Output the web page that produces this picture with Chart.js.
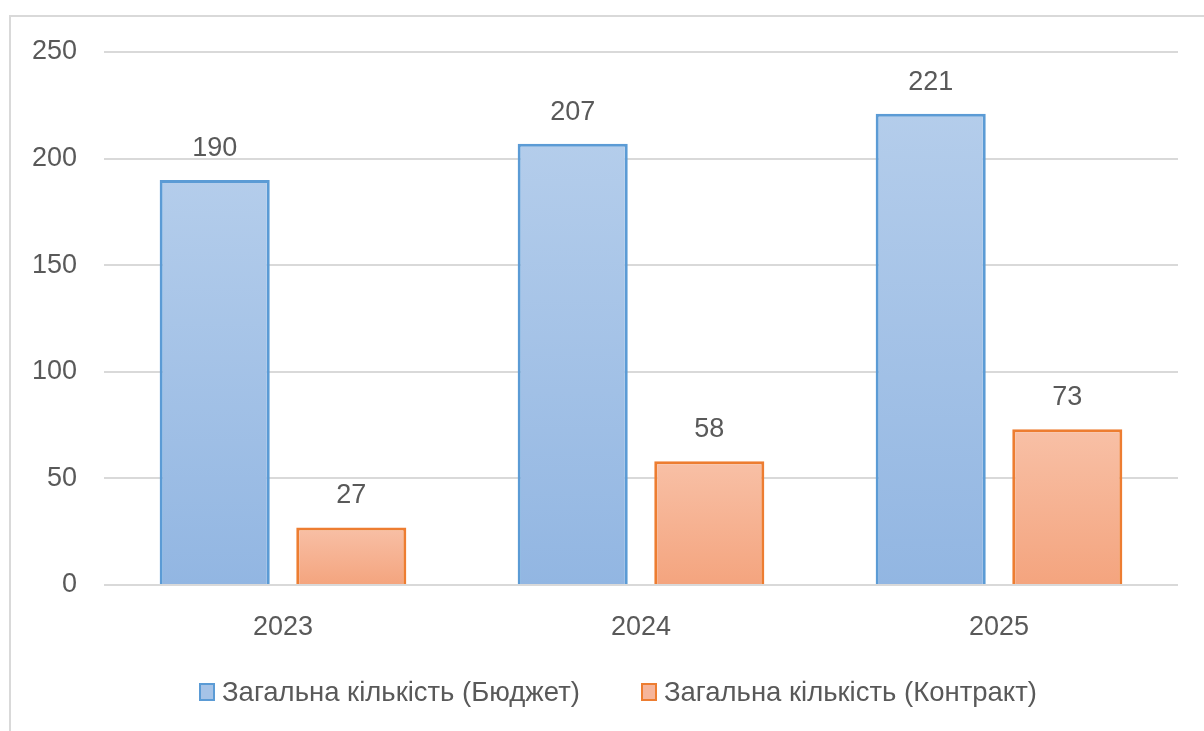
<!DOCTYPE html>
<html>
<head>
<meta charset="utf-8">
<script src="https://cdn.jsdelivr.net/npm/chart.js@4"></script>
<style>
  html, body { margin: 0; padding: 0; background: #fff; overflow: hidden; }
  #frame {
    position: absolute; left: 9px; top: 15px; width: 1300px; height: 800px;
    border-left: 2px solid #d9d9d9; border-top: 2px solid #d9d9d9;
  }
  #wrap { position: absolute; left: 0; top: 0; width: 1204px; height: 731px; }
  #legend {
    position: absolute; left: 199px; top: 678px; height: 28px;
    display: flex; align-items: center; gap: 61px;
    font-family: 'Liberation Sans', Arial, sans-serif; font-size: 27.5px; color: #595959;
  }
  .item { display: flex; align-items: center; }
  .box { box-sizing: border-box; width: 16px; height: 18px; border: 2.5px solid; margin-right: 7px; }
</style>
</head>
<body>
<div id="frame"></div>
<div id="wrap"><canvas id="chart"></canvas></div>
<div id="legend"></div>
<script>
// ==================== DATA ====================
const years = ['2023', '2024', '2025'];
const budget = [190, 207, 221];
const contract = [27, 58, 73];
const seriesNames = ['Загальна кількість (Бюджет)', 'Загальна кількість (Контракт)'];
const yMax = 250;
const yStep = 50;

const FONT = "'Liberation Sans', Arial, sans-serif";
const TEXT = '#595959';
const GRID = '#d9d9d9';

const styles = [
  { border: '#5b9bd5', top: '#b4cdeb', bottom: '#92b6e2', legend: '#a6c3e7' },
  { border: '#ed7d31', top: '#f8c0a6', bottom: '#f4a47e', legend: '#f6b59a' },
];

// vertical gradient per bar, from the bar's top to the zero line
function barGradient(idx) {
  return (c) => {
    const chart = c.chart;
    if (!chart.chartArea || c.raw == null) return styles[idx].bottom;
    const y = chart.scales.y;
    const g = chart.ctx.createLinearGradient(0, y.getPixelForValue(c.raw), 0, y.getPixelForValue(0));
    g.addColorStop(0, styles[idx].top);
    g.addColorStop(1, styles[idx].bottom);
    return g;
  };
}

// value labels above each bar
const valueLabels = {
  id: 'valueLabels',
  afterDatasetsDraw(chart) {
    const ctx = chart.ctx;
    ctx.save();
    ctx.font = '27px ' + FONT;
    ctx.fillStyle = TEXT;
    ctx.textAlign = 'center';
    ctx.textBaseline = 'alphabetic';
    chart.data.datasets.forEach((ds, i) => {
      chart.getDatasetMeta(i).data.forEach((el, j) => {
        ctx.fillText(String(ds.data[j]), el.x, el.y - 24);
      });
    });
    ctx.restore();
  },
};

const datasets = [budget, contract].map((data, i) => ({
  label: seriesNames[i],
  data,
  backgroundColor: barGradient(i),
  borderColor: styles[i].border,
  borderWidth: 3,
  categoryPercentage: 0.763,
  barPercentage: 0.806,
}));

new Chart(document.getElementById('chart'), {
  type: 'bar',
  data: { labels: years, datasets },
  plugins: [valueLabels],
  options: {
    responsive: true,
    maintainAspectRatio: false,
    animation: false,
    layout: { padding: { left: 0, right: 26, top: 52, bottom: 0 } },
    plugins: {
      legend: { display: false },
      tooltip: { enabled: false },
    },
    scales: {
      x: {
        grid: { display: false, drawTicks: false },
        border: { display: false },
        ticks: { color: TEXT, font: { family: FONT, size: 27 }, padding: 26 },
        afterFit: (s) => { s.height = 146; },
      },
      y: {
        min: 0,
        max: yMax,
        grid: { color: GRID, lineWidth: 2, drawTicks: false },
        border: { display: false },
        ticks: { stepSize: yStep, color: TEXT, font: { family: FONT, size: 27 }, padding: 27 },
        afterFit: (s) => { s.width = 104; },
      },
    },
  },
});

// legend as html text
document.getElementById('legend').innerHTML = seriesNames
  .map((name, i) => `<div class="item"><span class="box" style="background:${styles[i].legend};border-color:${styles[i].border}"></span>${name}</div>`)
  .join('');
</script>
</body>
</html>
